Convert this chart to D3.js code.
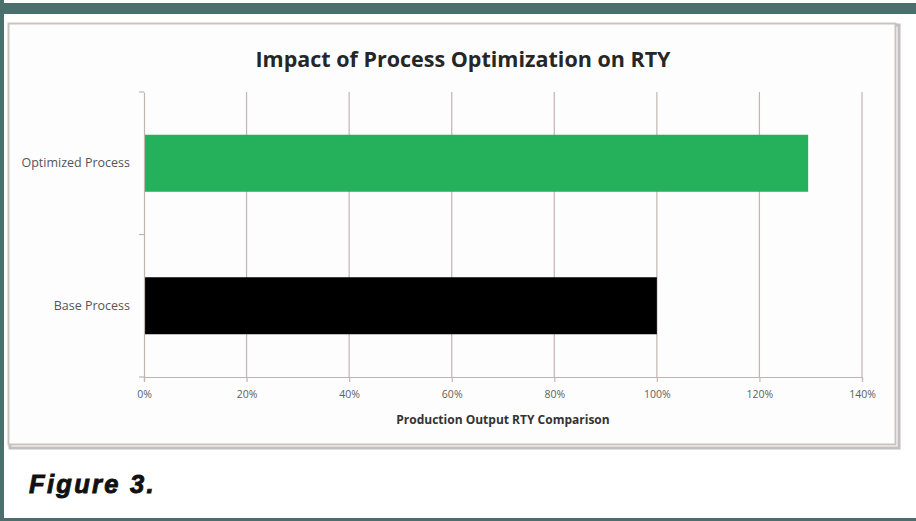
<!DOCTYPE html>
<html>
<head>
<meta charset="utf-8">
<script src="https://cdn.jsdelivr.net/npm/d3@7"></script>
<style>
  html, body { margin: 0; padding: 0; background: #ffffff; }
  svg { display: block; }
</style>
</head>
<body>
<script>
// Chart data
const categories = ["Optimized Process", "Base Process"];
const values = [1.295, 1.00];
const barColors = ["#25b05c", "#000000"];
const xTicks = [0, 0.2, 0.4, 0.6, 0.8, 1.0, 1.2, 1.4];
const chartTitle = "Impact of Process Optimization on RTY";
const xAxisTitle = "Production Output RTY Comparison";
const figureLabel = "Figure 3.";

const W = 916, H = 521;
const teal = "#4b6f6c";
const gridColor = "#c2b4b2";

const svg = d3.select("body").append("svg")
  .attr("width", W).attr("height", H);

// Page frame
svg.append("rect").attr("x", 0).attr("y", 0).attr("width", W).attr("height", H).attr("fill", "#ffffff");
svg.append("rect").attr("x", 0).attr("y", 3).attr("width", W).attr("height", 11).attr("fill", teal);
svg.append("rect").attr("x", 0).attr("y", 0).attr("width", 4).attr("height", H).attr("fill", teal);
svg.append("rect").attr("x", 0).attr("y", 518).attr("width", W).attr("height", 3).attr("fill", teal);

// Chart panel with soft shadow
svg.append("rect").attr("x", 10).attr("y", 25).attr("width", 889).attr("height", 423)
  .attr("fill", "none").attr("stroke", "#a9a4a2").attr("stroke-width", 3).attr("opacity", 0.7);
svg.append("rect").attr("x", 8.5).attr("y", 23.5).attr("width", 887).attr("height", 421)
  .attr("fill", "#fdfdfd").attr("stroke", "#c9c3c0").attr("stroke-width", 2);

// Plot area
const plot = { left: 144, right: 862, top: 92, bottom: 377 };

const x = d3.scaleLinear().domain([0, 1.4]).range([plot.left, plot.right]);
const y = d3.scaleBand().domain(categories).range([plot.top, plot.bottom])
  .paddingInner(0.6).paddingOuter(0.3);

const g = svg.append("g");

// Vertical gridlines
g.append("g").selectAll("line").data(xTicks.slice(1)).join("line")
  .attr("x1", d => x(d)).attr("x2", d => x(d))
  .attr("y1", plot.top).attr("y2", plot.bottom)
  .attr("stroke", gridColor).attr("stroke-width", 1.2);

// Bars
g.append("g").selectAll("rect").data(categories).join("rect")
  .attr("x", x(0))
  .attr("y", d => y(d))
  .attr("width", (d, i) => x(values[i]) - x(0))
  .attr("height", y.bandwidth())
  .attr("fill", (d, i) => barColors[i]);

// X axis
const xAxis = g.append("g").attr("transform", `translate(0,${plot.bottom})`)
  .call(d3.axisBottom(x).tickValues(xTicks).tickFormat(d3.format(".0%")).tickSize(5).tickPadding(9));
xAxis.select(".domain").attr("stroke", gridColor).attr("stroke-width", 1.2);
xAxis.selectAll(".tick line").attr("stroke", gridColor).attr("stroke-width", 1.2);
xAxis.selectAll("text").attr("fill", "#606060")
  .style("font-family", "'Open Sans', sans-serif").style("font-size", "10.5px");

// Y axis: category labels with ticks at band edges
const yAxis = g.append("g").attr("transform", `translate(${plot.left},0)`)
  .call(d3.axisLeft(y).tickSize(0).tickPadding(14));
yAxis.select(".domain").attr("stroke", gridColor).attr("stroke-width", 1.2);
yAxis.selectAll("text").attr("fill", "#555555")
  .style("font-family", "'Open Sans', sans-serif").style("font-size", "12.5px");
const edges = [plot.top, (y(categories[0]) + y.bandwidth() + y(categories[1])) / 2, plot.bottom];
yAxis.append("g").selectAll("line").data(edges).join("line")
  .attr("x1", -5).attr("x2", 0).attr("y1", d => d).attr("y2", d => d)
  .attr("stroke", gridColor).attr("stroke-width", 1.2);

// Titles
svg.append("text").attr("x", 463).attr("y", 67).attr("text-anchor", "middle")
  .style("font-family", "'Open Sans', sans-serif").style("font-weight", "700").style("font-size", "21.5px")
  .attr("fill", "#262626").text(chartTitle);

svg.append("text").attr("x", 503).attr("y", 424).attr("text-anchor", "middle")
  .style("font-family", "'Open Sans', sans-serif").style("font-weight", "700").style("font-size", "12px")
  .attr("fill", "#333333").text(xAxisTitle);

svg.append("text").attr("x", 29).attr("y", 493)
  .style("font-family", "'Liberation Sans', Arial, sans-serif").style("font-weight", "900")
  .style("font-style", "italic").style("font-size", "25.5px").style("letter-spacing", "2.3px")
  .attr("fill", "#111111").attr("stroke", "#111111").attr("stroke-width", 0.9)
  .text(figureLabel);
</script>
</body>
</html>
